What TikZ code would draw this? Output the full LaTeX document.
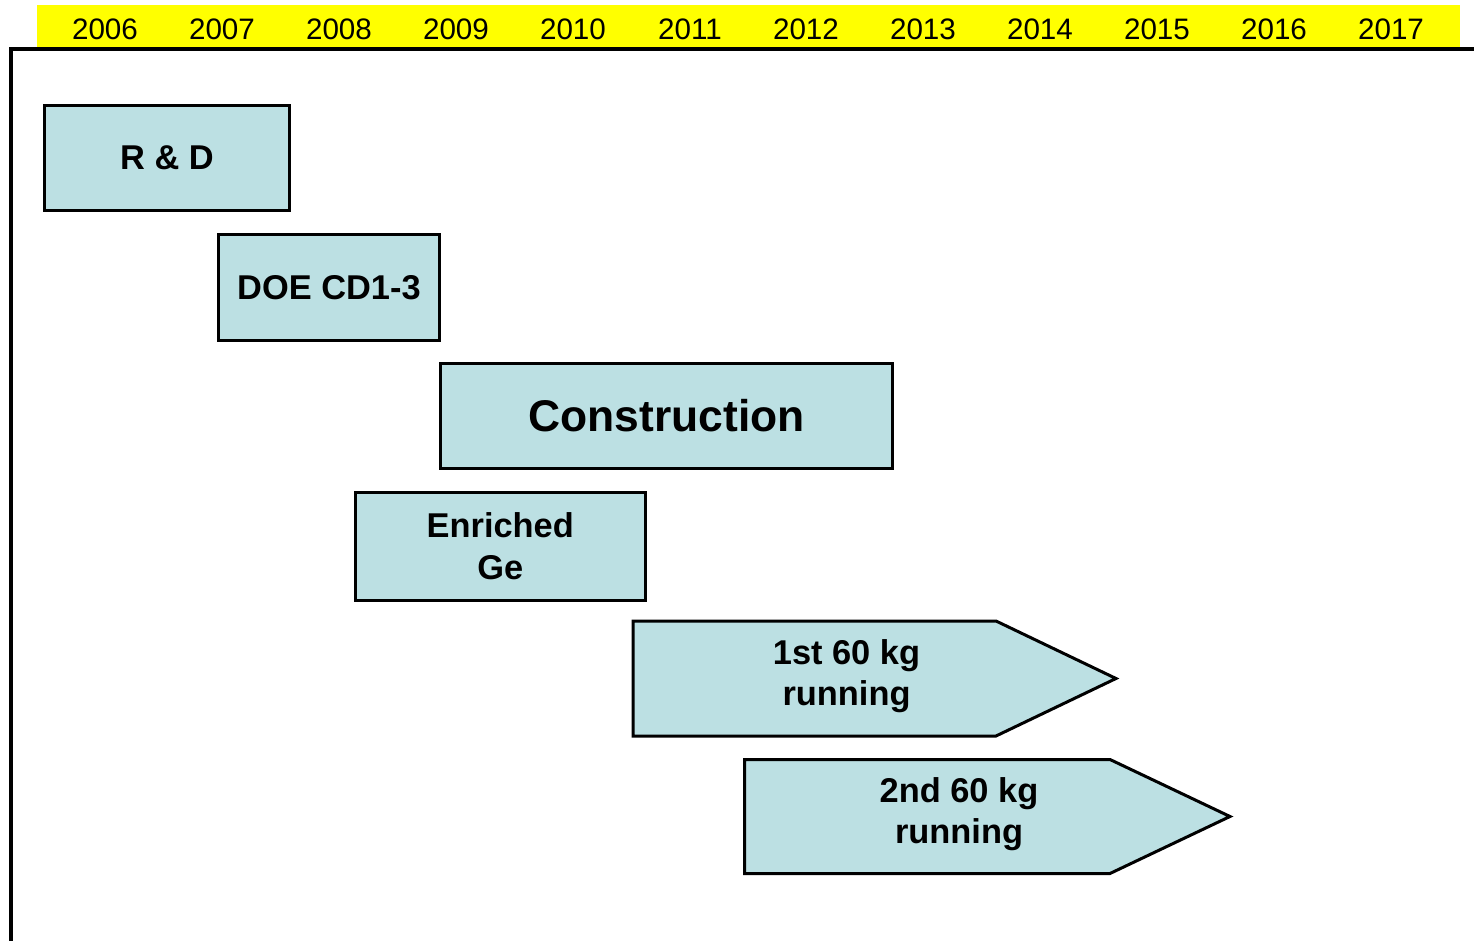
\documentclass[tikz,border=0pt]{standalone}
\usepackage{fontspec}
\setmainfont{Liberation Sans}
\usepackage{tikz}

\definecolor{boxblue}{RGB}{188,224,227}
\definecolor{baryellow}{RGB}{255,255,0}

\begin{document}
\begin{tikzpicture}[x=0.5pt, y=-0.5pt,
  year/.style = {font=\fontsize{14.8}{17}\selectfont, inner sep=0pt},
  task/.style = {draw, line width=1.5pt, fill=boxblue, inner sep=0pt, align=center, font=\fontsize{17.2}{20.6}\selectfont\bfseries},
  runbox/.style = {draw, line width=1.5pt, fill=boxblue, line join=miter},
  label/.style = {inner sep=0pt, align=center, font=\fontsize{17.2}{20.6}\selectfont\bfseries}]
\useasboundingbox (0,0) rectangle (1474,941);
\fill[white] (0,0) rectangle (1474,941);
% year bar
\fill[baryellow] (37,5) rectangle (1460,48);
\node[year] (y2006) at (105,29) {2006};
\node[year] (y2007) at (222,29) {2007};
\node[year] (y2008) at (339,29) {2008};
\node[year] (y2009) at (456,29) {2009};
\node[year] (y2010) at (573,29) {2010};
\node[year] (y2011) at (690,29) {2011};
\node[year] (y2012) at (806,29) {2012};
\node[year] (y2013) at (923,29) {2013};
\node[year] (y2014) at (1040,29) {2014};
\node[year] (y2015) at (1157,29) {2015};
\node[year] (y2016) at (1274,29) {2016};
\node[year] (y2017) at (1391,29) {2017};
\draw[line width=2pt] (11,941) -- (11,49.5) -- (1474,49.5);
% tasks
\node[task, minimum width=122.5pt, minimum height=52.75pt] (rd) at (167,158.25) {R \& D};
\node[task, minimum width=110.5pt, minimum height=53pt] (doe) at (329,287.8) {DOE CD1-3};
\node[task, minimum width=225.9pt, minimum height=52.75pt, font=\fontsize{22.2}{26}\selectfont\bfseries] (constr) at (666.6,415.8) {Construction};
\node[task, minimum width=144.75pt, minimum height=53.75pt] (enr) at (500.25,546.25) {Enriched\\Ge};
% running phases
\path[runbox] (633,621) -- (996,621) -- (1116,678.5) -- (996,736) -- (633,736) -- cycle;
\node[label] (run1) at (846.5,676) {1st 60 kg\\running};
\path[runbox] (744.5,759.5) -- (1110,759.5) -- (1230,816.5) -- (1110,873.5) -- (744.5,873.5) -- cycle;
\node[label] (run2) at (959,814) {2nd 60 kg\\running};
\end{tikzpicture}
\end{document}
